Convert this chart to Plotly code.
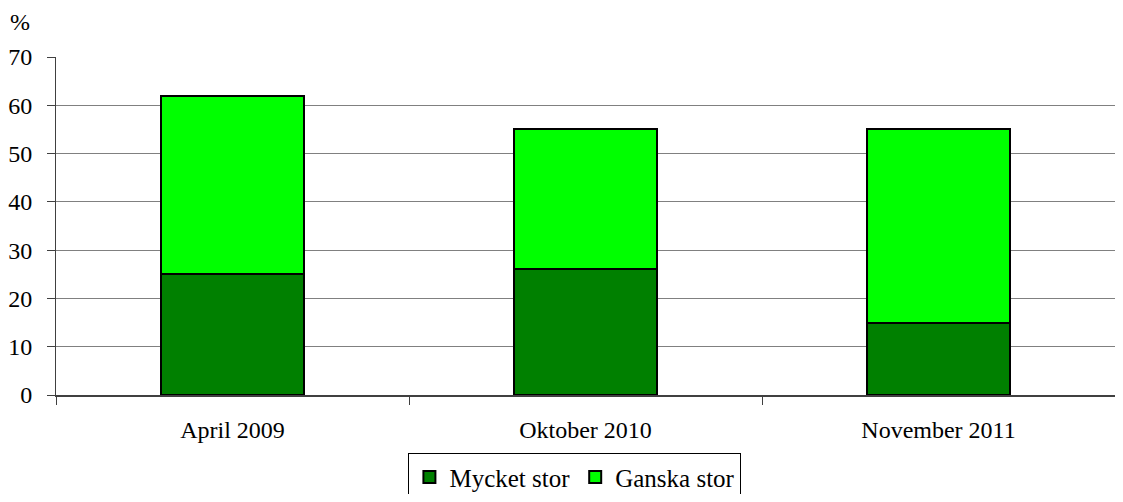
import plotly.graph_objects as go

perioder = ["April 2009", "Oktober 2010", "November 2011"]
mycket_stor = [25, 26, 15]
ganska_stor = [37, 29, 40]
y_ticks = [0, 10, 20, 30, 40, 50, 60, 70]

font = "Liberation Serif, Times New Roman, serif"

fig = go.Figure()
fig.add_trace(go.Bar(x=perioder, y=mycket_stor, name="Mycket stor",
                     marker=dict(color="#008000", line=dict(color="black", width=2))))
fig.add_trace(go.Bar(x=perioder, y=ganska_stor, name="Ganska stor",
                     marker=dict(color="#00FF00", line=dict(color="black", width=2))))

# the page puts the figure 8px in from the top-left corner, keep it inside the window
fig.update_layout(
    barmode="stack",
    bargap=0.595,
    width=1107, height=486,
    margin=dict(l=48, r=0, t=49, b=99, autoexpand=False),
    plot_bgcolor="white", paper_bgcolor="white",
    font=dict(family=font, size=24, color="black"),
    showlegend=True,
    legend=dict(orientation="h", traceorder="normal", x=0.49, xanchor="center",
                y=-0.172, yanchor="top", bordercolor="black", borderwidth=1,
                font=dict(size=25), itemwidth=30),
    annotations=[dict(text="%", xref="x domain", yref="y domain", x=-0.034, y=1.104,
                      xanchor="center", yanchor="middle", showarrow=False)],
)

fig.update_xaxes(tickson="boundaries", ticks="outside", ticklen=8, tickcolor="#404040",
                 showgrid=False, showline=True, linecolor="#404040", linewidth=2,
                 ticklabelstandoff=12)
fig.update_yaxes(range=[0, 70], tickvals=y_ticks, ticks="outside", ticklen=8,
                 tickcolor="#404040", showline=True, linecolor="#404040", linewidth=1,
                 gridcolor="#808080", gridwidth=1, zeroline=False, ticklabelstandoff=10)

fig.write_html("out.html")
